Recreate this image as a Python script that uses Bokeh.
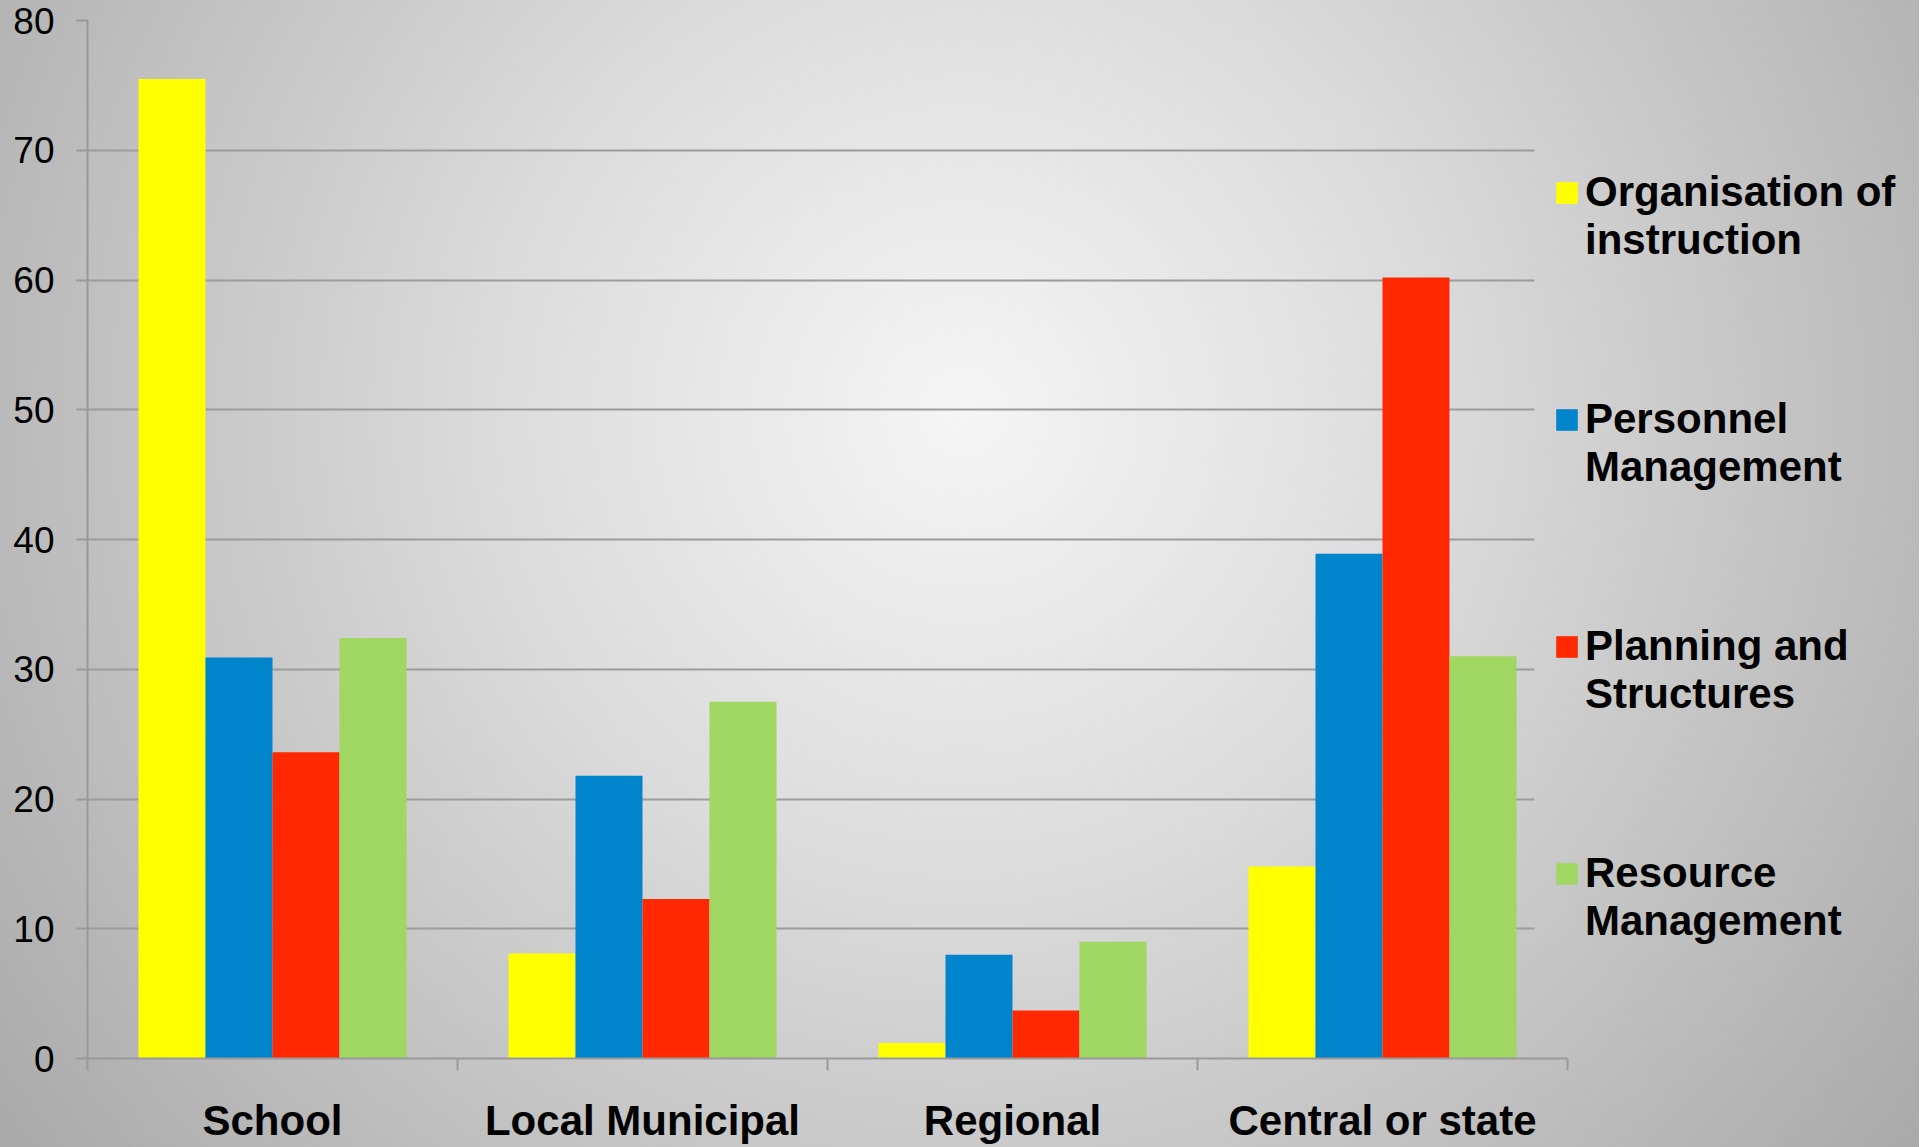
from bokeh.plotting import figure
from bokeh.models import FixedTicker, Legend, LegendItem, Range1d, Grid
from bokeh.embed import file_html
from bokeh.resources import INLINE

categories = ["School", "Local Municipal", "Regional", "Central or state"]
series_labels = ["Organisation of\ninstruction", "Personnel\nManagement",
                 "Planning and\nStructures", "Resource\nManagement"]
series_colors = ["#FFFF00", "#0084CC", "#FF2800", "#A0D662"]
organisation = [75.5, 8.1, 1.2, 14.8]
personnel = [30.9, 21.8, 8.0, 38.9]
planning = [23.6, 12.3, 3.7, 60.2]
resource = [32.4, 27.5, 9.0, 31.0]
y_ticks = [0, 10, 20, 30, 40, 50, 60, 70, 80]

series_values = [organisation, personnel, planning, resource]

# layout constants (pixels)
cat_px = 370.0
frame_left = 87
n_cat = len(categories)
x_end = (1926 - frame_left) / cat_px

p = figure(width=1926, height=1147, output_backend="svg", toolbar_location=None,
           x_range=Range1d(0, x_end), y_range=Range1d(0, 80),
           min_border_left=frame_left, min_border_right=0, min_border_top=20, min_border_bottom=89)
p.background_fill_alpha = 0
p.border_fill_alpha = 0
p.outline_line_color = None
p.styles = {"background": "linear-gradient(to right, rgba(255,255,255,0) 1919px, #ffffff 1919px), "
                          "radial-gradient(circle farthest-corner at 50% 36%, #f5f5f5 0%, #dcdcdc 38%, #a9a9a9 100%)"}

bar_w = 67 / cat_px
renderers = []
for j, vals in enumerate(series_values):
    xs = [i + 0.5 + (j - 1.5) * bar_w for i in range(n_cat)]
    r = p.vbar(x=xs, top=vals, bottom=0, width=bar_w, fill_color=series_colors[j], line_color=None)
    renderers.append(r)

# axes
xaxis = p.xaxis[0]
xaxis.bounds = (0, n_cat)
xaxis.ticker = FixedTicker(ticks=[i + 0.5 for i in range(n_cat)],
                           minor_ticks=list(range(n_cat + 1)))
xaxis.major_label_overrides = {i + 0.5: c for i, c in enumerate(categories)}
xaxis.major_tick_out = 0
xaxis.major_tick_in = 0
xaxis.minor_tick_out = 12
xaxis.minor_tick_in = 0
xaxis.minor_tick_line_color = "#999999"
xaxis.minor_tick_line_width = 2
xaxis.axis_line_color = "#999999"
xaxis.axis_line_width = 2
xaxis.major_label_text_font = "Liberation Sans"
xaxis.major_label_text_font_style = "bold"
xaxis.major_label_text_font_size = "42px"
xaxis.major_label_text_color = "#000000"
xaxis.major_label_standoff = 26

yaxis = p.yaxis[0]
yaxis.ticker = FixedTicker(ticks=y_ticks, minor_ticks=[])
yaxis.major_tick_out = 11
yaxis.major_tick_in = 0
yaxis.major_tick_line_color = "#999999"
yaxis.major_tick_line_width = 2
yaxis.axis_line_color = "#999999"
yaxis.axis_line_width = 2
yaxis.major_label_text_font = "Liberation Sans"
yaxis.major_label_text_font_size = "37px"
yaxis.major_label_text_color = "#000000"
yaxis.major_label_standoff = 22
yaxis.bounds = (0, 80)

p.xgrid.visible = False
p.ygrid.visible = False
# gridlines 10..70 stop where the legend box begins; the top one runs to the axis end
grid_inner = Grid(dimension=1, ticker=FixedTicker(ticks=y_ticks[1:-1]),
                  cross_bounds=(0, (1534 - frame_left) / cat_px),
                  grid_line_color="#9c9c9c", grid_line_width=2)
grid_top = Grid(dimension=1, ticker=FixedTicker(ticks=y_ticks[-1:]),
                cross_bounds=(0, n_cat),
                grid_line_color="#9c9c9c", grid_line_width=2)
p.add_layout(grid_inner)
p.add_layout(grid_top)

legend = Legend(items=[LegendItem(label=" \n" + series_labels[j], renderers=[renderers[j]]) for j in range(4)],
                location=(1466, 113))
legend.label_text_font = "Liberation Sans"
legend.label_text_font_style = "bold"
legend.label_text_font_size = "42px"
legend.label_text_color = "#000000"
legend.glyph_width = 27
legend.glyph_height = 27
legend.label_standoff = 5
legend.spacing = 83
legend.padding = 0
legend.margin = 0
legend.background_fill_alpha = 0
legend.border_line_alpha = 0
p.add_layout(legend, "center")

open("out.html", "w").write(file_html(p, INLINE))
